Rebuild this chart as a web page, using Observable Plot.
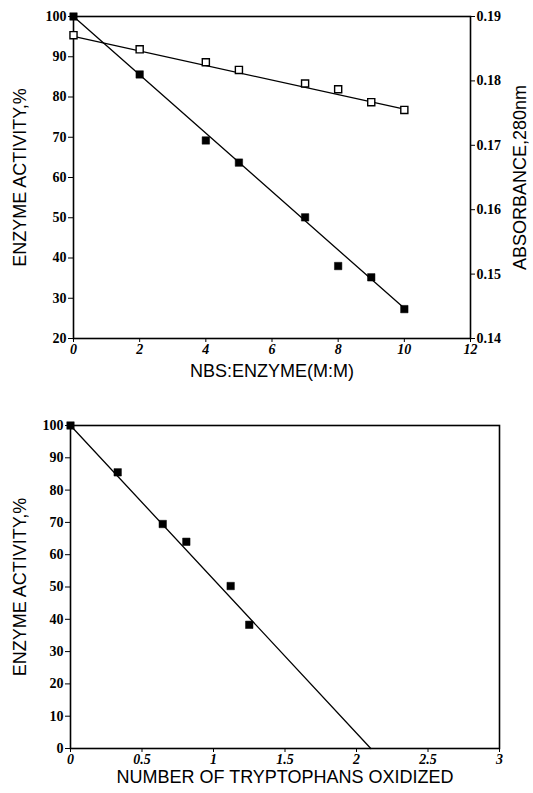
<!DOCTYPE html>
<html>
<head>
<meta charset="utf-8">
<script src="https://cdn.jsdelivr.net/npm/d3@7"></script>
<script src="https://cdn.jsdelivr.net/npm/@observablehq/plot@0.6"></script>
<style>
  html, body { margin: 0; padding: 0; background: #fff; }
  #chart { width: 533px; height: 793px; }
  #chart svg { display: block; }
  #chart svg g[aria-label$="tick label"],
  #chart svg g[aria-label$="tick label"] text {
    font-family: 'Liberation Serif', 'Times New Roman', serif !important;
    font-weight: bold !important;
    font-size: 14px !important;
  }
  #chart svg g[aria-label="x-axis tick label"],
  #chart svg g[aria-label="x-axis tick label"] text {
    font-style: italic !important;
  }
</style>
</head>
<body>
<div id="chart"></div>
<script>
// ---- Top panel data ----
const nbsRatio = [0, 2, 4, 5, 7, 8, 9, 10];
const activityNBS = [100, 85.6, 69.2, 63.7, 50.1, 38.0, 35.2, 27.3];
const absorbanceX = [0, 2, 4, 5, 7, 8, 9, 10];
const absorbance280 = [0.1871, 0.1849, 0.1829, 0.1817, 0.1796, 0.1787, 0.1767, 0.1755];
const activityFitX = [0, 10];
const activityFitY = [100, 27.5];
const absorbanceFitX = [0, 10];
const absorbanceFitY = [0.1869, 0.1756];
const topXTicks = [0, 2, 4, 6, 8, 10, 12];
const topYTicks = [20, 30, 40, 50, 60, 70, 80, 90, 100];
const absTicks = [0.14, 0.15, 0.16, 0.17, 0.18, 0.19];

// ---- Bottom panel data ----
const trpOxidized = [0, 0.33, 0.645, 0.81, 1.12, 1.25];
const activityTrp = [100, 85.5, 69.5, 64.0, 50.3, 38.3];
const trpFitX = [0, 2.1];
const trpFitY = [100, 0];
const botXTicks = [0, 0.5, 1, 1.5, 2, 2.5, 3];
const botYTicks = [0, 10, 20, 30, 40, 50, 60, 70, 80, 90, 100];

(function () {
// map absorbance onto the left (activity) scale: 0.14 -> 20, 0.19 -> 100
const absToLeft = a => 20 + (a - 0.14) / 0.05 * 80;
const leftToAbs = v => 0.14 + (v - 20) / 80 * 0.05;

const serif = "'Liberation Serif', 'Times New Roman', serif";
const sans = "'Liberation Sans', Arial, sans-serif";

const tickText = {fontFamily: serif, fontWeight: "bold", fontSize: 14};
const titleText = {fontFamily: sans, fontWeight: "normal", fontSize: 18, fill: "black", textAnchor: "middle"};

const actPts = nbsRatio.map((x, i) => ({x, y: activityNBS[i]}));
const absPts = absorbanceX.map((x, i) => ({x, y: absToLeft(absorbance280[i])}));
const actFit = activityFitX.map((x, i) => ({x, y: activityFitY[i]}));
const absFit = absorbanceFitX.map((x, i) => ({x, y: absToLeft(absorbanceFitY[i])}));

const topChart = Plot.plot({
  width: 533,
  height: 395,
  marginLeft: 73,
  marginRight: 63,
  marginTop: 16,
  marginBottom: 57,
  style: {fontFamily: serif, fontWeight: "bold", fontSize: "14px", background: "white", color: "black"},
  x: {domain: [0, 12]},
  y: {domain: [20, 100]},
  marks: [
    Plot.frame({stroke: "black", strokeWidth: 1.6}),
    Plot.axisX(topXTicks, {tickSize: 4, tickPadding: 2, label: null, fontStyle: "italic", ...tickText, tickFormat: d => String(d)}),
    Plot.axisY(topYTicks, {anchor: "left", tickSize: 5, tickPadding: 2, label: null, ...tickText, tickFormat: d => String(d)}),
    Plot.axisY(absTicks.map(absToLeft), {anchor: "right", tickSize: 4, tickPadding: 2, label: null, ...tickText,
      tickFormat: d => leftToAbs(d).toFixed(2)}),
    Plot.line(absFit, {x: "x", y: "y", stroke: "black", strokeWidth: 1.3}),
    Plot.line(actFit, {x: "x", y: "y", stroke: "black", strokeWidth: 1.3}),
    Plot.dot(absPts, {x: "x", y: "y", symbol: "square", r: 4, fill: "white", stroke: "black", strokeWidth: 1.4}),
    Plot.dot(actPts, {x: "x", y: "y", symbol: "square", r: 4.2, fill: "black", stroke: "black", strokeWidth: 0.5}),
    Plot.text(["ENZYME ACTIVITY,%"], {frameAnchor: "left", dx: -53, rotate: -90, ...titleText}),
    Plot.text(["ABSORBANCE,280nm"], {frameAnchor: "right", dx: 50, rotate: -90, ...titleText}),
    Plot.text(["NBS:ENZYME(M:M)"], {frameAnchor: "bottom", dy: 38, ...titleText})
  ]
});

const trpPts = trpOxidized.map((x, i) => ({x, y: activityTrp[i]}));
const trpFit = trpFitX.map((x, i) => ({x, y: trpFitY[i]}));

const bottomChart = Plot.plot({
  width: 533,
  height: 398,
  marginLeft: 70,
  marginRight: 34,
  marginTop: 30,
  marginBottom: 45,
  style: {fontFamily: serif, fontWeight: "bold", fontSize: "14px", background: "white", color: "black"},
  x: {domain: [0, 3]},
  y: {domain: [0, 100]},
  marks: [
    Plot.frame({stroke: "black", strokeWidth: 1.6}),
    Plot.axisX(botXTicks, {tickSize: 4, tickPadding: 2, label: null, fontStyle: "italic", ...tickText, tickFormat: d => String(d)}),
    Plot.axisY(botYTicks, {anchor: "left", tickSize: 5, tickPadding: 2, label: null, ...tickText, tickFormat: d => String(d)}),
    Plot.line(trpFit, {x: "x", y: "y", stroke: "black", strokeWidth: 1.3}),
    Plot.dot(trpPts, {x: "x", y: "y", symbol: "square", r: 4.2, fill: "black", stroke: "black", strokeWidth: 0.5}),
    Plot.text(["ENZYME ACTIVITY,%"], {frameAnchor: "left", dx: -50, rotate: -90, ...titleText}),
    Plot.text(["NUMBER OF TRYPTOPHANS OXIDIZED"], {frameAnchor: "bottom", dy: 34, ...titleText})
  ]
});

const el = document.getElementById("chart");
el.appendChild(topChart);
el.appendChild(bottomChart);
})();
</script>
</body>
</html>
